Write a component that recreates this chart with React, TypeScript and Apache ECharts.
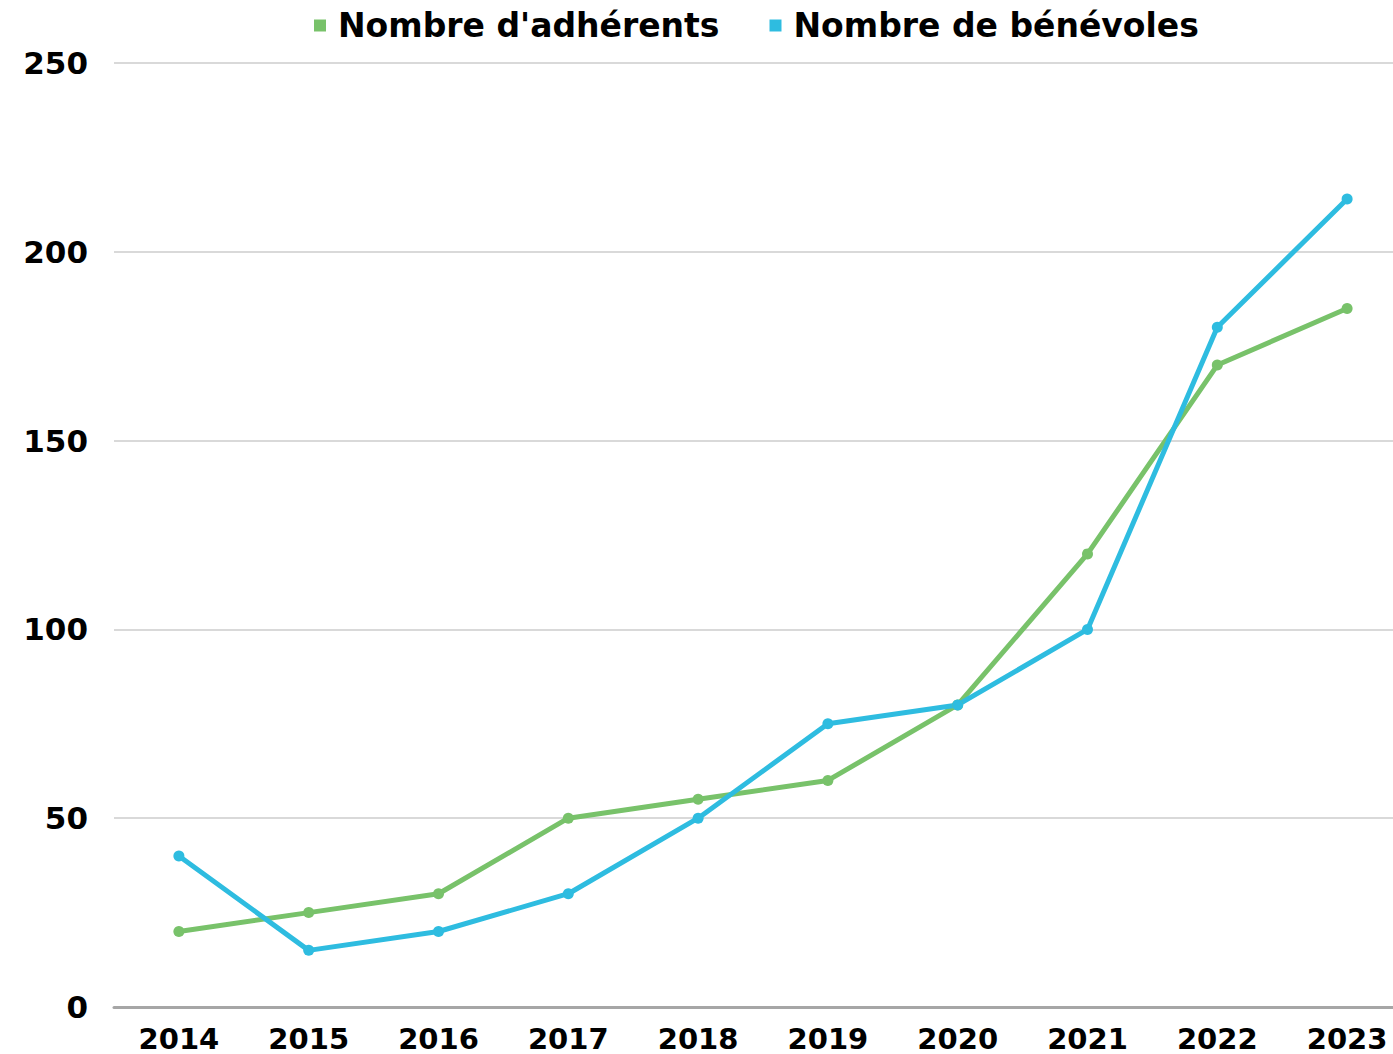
import React, { useEffect, useRef } from "react";
import * as echarts from "echarts";

const years = ["2014", "2015", "2016", "2017", "2018", "2019", "2020", "2021", "2022", "2023"];
const adherents = [20, 25, 30, 50, 55, 60, 80, 120, 170, 185];
const benevoles = [40, 15, 20, 30, 50, 75, 80, 100, 180, 214];
const seriesNames = ["Nombre d'adhérents", "Nombre de bénévoles"];
const colors = ["#78C26A", "#2EBCE0"];

const FONT = "DejaVu Sans";

export default function App() {
  const ref = useRef<HTMLDivElement>(null);
  useEffect(() => {
    const chart = echarts.init(ref.current!, null, { renderer: "svg" });
    chart.setOption({
      animation: false,
      backgroundColor: "#ffffff",
      legend: {
        top: 4,
        left: 309,
        itemWidth: 12,
        itemHeight: 12,
        itemGap: 50,
        icon: "rect",
        textStyle: {
          fontFamily: FONT,
          fontWeight: "bold",
          fontSize: 33,
          color: "#000",
          padding: [0, 0, 0, 7],
        },
        data: seriesNames,
      },
      grid: {
        left: 114,
        top: 63,
        width: 1298,
        height: 944,
        outerBoundsMode: "none",
        containLabel: false,
      },
      xAxis: {
        type: "category",
        data: years,
        boundaryGap: true,
        axisLine: { lineStyle: { color: "#a6a6a6", width: 3 } },
        axisTick: { show: false },
        axisLabel: { fontFamily: FONT, fontWeight: "bold", fontSize: 29, color: "#000", margin: 17 },
      },
      yAxis: {
        type: "value",
        min: 0,
        max: 250,
        interval: 50,
        axisLine: { show: false },
        axisTick: { show: false },
        splitLine: { lineStyle: { color: "#d9d9d9", width: 2 } },
        axisLabel: { fontFamily: FONT, fontWeight: "bold", fontSize: 31, color: "#000", margin: 26 },
      },
      series: [
        {
          name: seriesNames[0],
          type: "line",
          data: adherents,
          color: colors[0],
          symbol: "circle",
          symbolSize: 11,
          lineStyle: { width: 5 },
        },
        {
          name: seriesNames[1],
          type: "line",
          data: benevoles,
          color: colors[1],
          symbol: "circle",
          symbolSize: 11,
          lineStyle: { width: 5 },
        },
      ],
    });
    return () => chart.dispose();
  }, []);
  return (
    <div
      ref={ref}
      style={{ position: "absolute", left: 0, top: 0, width: 1393, height: 1054 }}
    />
  );
}
